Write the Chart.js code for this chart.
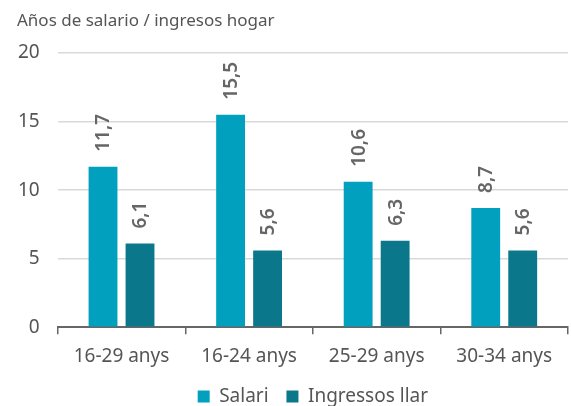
<!DOCTYPE html>
<html>
<head>
<meta charset="utf-8">
<script src="https://cdn.jsdelivr.net/npm/chart.js@4.4.1/dist/chart.umd.min.js"></script>
<style>
  html, body { margin: 0; padding: 0; background: #fff; }
  #wrap { width: 571px; height: 406px; position: relative; }
</style>
</head>
<body>
<div id="wrap"><canvas id="yearsChart"></canvas></div>
<script>
// Data
const categories = ['16-29 anys', '16-24 anys', '25-29 anys', '30-34 anys'];
const salari = [11.7, 15.5, 10.6, 8.7];
const ingressosLlar = [6.1, 5.6, 6.3, 5.6];
const yTicks = [0, 5, 10, 15, 20];
const titleText = 'Años de salario / ingresos hogar';

const FONT = "'Noto Sans', sans-serif";

// title, centred legend and rotated value labels above each bar
const barLabels = {
    id: 'barLabels',
    afterLayout(chart) {
        // centre the legend under the plot area instead of the canvas
        const lg = chart.legend;
        const shift = (chart.chartArea.left + chart.chartArea.right) / 2 - (lg.left + lg.right) / 2;
        lg.left += shift;
        lg.right += shift;
    },
    afterDraw(chart) {
        const c = chart.ctx;
        c.save();
        c.font = '17px ' + FONT;
        c.fillStyle = '#555';
        c.textAlign = 'left';
        c.textBaseline = 'middle';
        c.fillText(titleText, 17, 21);
        c.restore();
    },
    afterDatasetsDraw(chart) {
        const c = chart.ctx;
        c.save();
        c.font = '600 19px ' + FONT;
        c.fillStyle = '#666';
        c.textAlign = 'left';
        c.textBaseline = 'middle';
        chart.data.datasets.forEach(function (ds, i) {
            chart.getDatasetMeta(i).data.forEach(function (bar, j) {
                c.save();
                c.translate(bar.x + 1, bar.y - 15);
                c.rotate(-Math.PI / 2);
                c.fillText(ds.data[j].toFixed(1).replace('.', ','), 0, 0);
                c.restore();
            });
        });
        c.restore();
    }
};

const ctx = document.getElementById('yearsChart').getContext('2d');
const yearsChart = new Chart(ctx, {
    type: 'bar',
    data: {
        labels: categories,
        datasets: [{
            label: 'Salari',
            data: salari,
            backgroundColor: '#00a0be',
            categoryPercentage: 0.58,
            barPercentage: 0.78
        }, {
            label: 'Ingressos llar',
            data: ingressosLlar,
            backgroundColor: '#0a788a',
            categoryPercentage: 0.58,
            barPercentage: 0.78
        }]
    },
    options: {
        responsive: true,
        maintainAspectRatio: false,
        animation: false,
        layout: { padding: { left: 0, right: 3, top: 53, bottom: -10 } },
        plugins: {
            title: { display: false },
            legend: {
                position: 'bottom',
                labels: {
                    color: '#555',
                    font: { family: FONT, size: 19 },
                    usePointStyle: true,
                    pointStyle: 'rect',
                    boxWidth: 12,
                    boxHeight: 12,
                    padding: 8,
                    generateLabels(chart) {
                        const items = Chart.defaults.plugins.legend.labels.generateLabels(chart);
                        // a little extra room after the first entry
                        items[0].text += '  ';
                        return items;
                    }
                }
            },
            tooltip: { enabled: false }
        },
        scales: {
            x: {
                grid: {
                    offset: true,
                    drawOnChartArea: false,
                    color: '#666',
                    tickLength: 7,
                    lineWidth: 1.5
                },
                border: { color: '#666', width: 2 },
                ticks: { color: '#555', font: { family: FONT, size: 19 }, padding: 11 }
            },
            y: {
                min: 0,
                max: 20,
                afterBuildTicks(axis) {
                    axis.ticks = yTicks.map(function (v) { return { value: v }; });
                },
                grid: { color: '#d9d9d9', lineWidth: 1.5, drawTicks: false },
                border: { display: false },
                ticks: { color: '#555', font: { family: FONT, size: 19 }, padding: 18 }
            }
        }
    },
    plugins: [barLabels]
});
</script>
</body>
</html>
